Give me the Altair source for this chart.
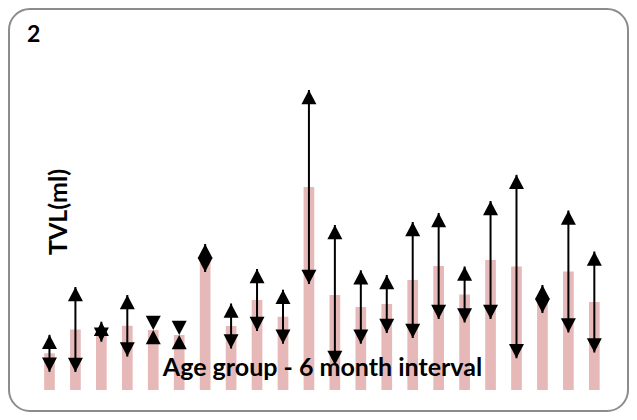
import altair as alt
import pandas as pd

# ---- data ----
groups = ["0-6", "6-12", "12-18", "18-24", "24-30", "30-36", "36-42", "42-48",
          "48-54", "54-60", "60-66", "66-72", "72-78", "78-84", "84-90", "90-96",
          "96-102", "102-108", "108-114", "114-120", "120-126", "126-132"]
mean_tvl = [36.7, 60.5, 58.3, 64.2, 60.0, 55.0, 132.0, 64.0, 90.0, 73.3, 203.0,
            95.0, 83.0, 86.0, 110.0, 124.0, 95.5, 130.0, 123.5, 91.0, 118.5, 88.0]
sd_tvl = [18.5, 42.5, 10.0, 30.8, 0.0, 0.0, 14.0, 22.5, 31.0, 27.0, 97.0,
          70.0, 36.7, 29.0, 58.0, 53.0, 28.0, 59.0, 91.7, 14.0, 61.0, 50.5]

panel_label = ["2"]
y_title = ["TVL(ml)"]
x_title = ["Age group - 6 month interval"]

df = pd.DataFrame({"group": groups, "mean": mean_tvl, "sd": sd_tvl})

FONT = "Lato"
BAR = "#E6B9B8"
UP = "M0,0L1,1.9L-1,1.9Z"
DOWN = "M0,0L1,-1.9L-1,-1.9Z"

xs = alt.Scale(domain=groups, range=[27.5, 598.3], paddingInner=0.588, paddingOuter=0.294)
ys = alt.Scale(domain=[0, 300], range=[381, 81], nice=False, zero=True)

X = alt.X("group:N", sort=groups, scale=xs, axis=None)

base = alt.Chart(df).transform_calculate(
    lo="datum.mean - datum.sd", hi="datum.mean + datum.sd"
)

bars = base.mark_bar(color=BAR).encode(x=X, y=alt.Y("mean:Q", scale=ys, axis=None))
rules = base.mark_rule(color="black", strokeWidth=2).encode(
    x=X, y=alt.Y("lo:Q", scale=ys, axis=None), y2="hi:Q"
)
ups = base.mark_point(shape=UP, size=225, filled=True, color="black", opacity=1,
                      strokeWidth=0).encode(x=X, y=alt.Y("hi:Q", scale=ys, axis=None))
downs = base.mark_point(shape=DOWN, size=225, filled=True, color="black", opacity=1,
                        strokeWidth=0).encode(x=X, y=alt.Y("lo:Q", scale=ys, axis=None))

t_panel = alt.Chart(pd.DataFrame({"t": panel_label})).mark_text(
    font=FONT, fontSize=23, fontWeight="bold", align="left", baseline="alphabetic", color="black"
).encode(text="t:N", x=alt.value(18), y=alt.value(33))

t_y = alt.Chart(pd.DataFrame({"t": y_title})).mark_text(
    font=FONT, fontSize=25, fontWeight="bold", align="center", baseline="middle",
    angle=270, color="black"
).encode(text="t:N", x=alt.value(50), y=alt.value(203))

t_x = alt.Chart(pd.DataFrame({"t": x_title})).mark_text(
    font=FONT, fontSize=25, fontWeight="bold", align="center", baseline="alphabetic", color="black"
).encode(text="t:N", x=alt.value(313.5), y=alt.value(367))

chart = alt.layer(bars, t_x, rules, ups, downs, t_panel, t_y).properties(
    width=619, height=402,
    padding={"left": 1, "top": 1, "right": 1, "bottom": 1},
    autosize=alt.AutoSizeParams(type="none"),
    background="white",
).configure_view(
    stroke="#8C8C8C", strokeWidth=2, cornerRadius=21, fill="white"
)

chart.save("out.html", embed_options={"renderer": "svg", "actions": False})
